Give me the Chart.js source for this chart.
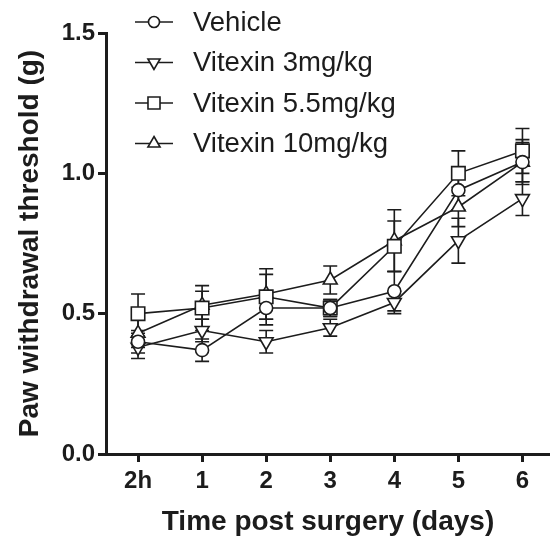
<!DOCTYPE html>
<html>
<head>
<meta charset="utf-8">
<script src="https://cdn.jsdelivr.net/npm/chart.js@4"></script>
<style>
  html, body { margin: 0; padding: 0; background: #fff; }
  #box { width: 550px; height: 537px; }
</style>
</head>
<body>
<div id="box"><canvas id="grafico" width="550" height="537"></canvas></div>
<script>
// dados
const categories = ['2h', '1', '2', '3', '4', '5', '6'];
const seriesNames = ['Vehicle', 'Vitexin 3mg/kg', 'Vitexin 5.5mg/kg', 'Vitexin 10mg/kg'];
const vehicle = [0.40, 0.37, 0.52, 0.52, 0.58, 0.94, 1.04];
const vitexin3 = [0.38, 0.44, 0.40, 0.45, 0.54, 0.76, 0.91];
const vitexin55 = [0.50, 0.52, 0.56, 0.52, 0.74, 1.00, 1.08];
const vitexin10 = [0.43, 0.53, 0.57, 0.62, 0.76, 0.88, 1.04];
const vehicleErr = [0.04, 0.04, 0.06, 0.03, 0.07, 0.07, 0.08];
const vitexin3Err = [0.04, 0.04, 0.04, 0.03, 0.04, 0.08, 0.06];
const vitexin55Err = [0.07, 0.08, 0.08, 0.03, 0.09, 0.08, 0.08];
const vitexin10Err = [0.05, 0.05, 0.09, 0.05, 0.11, 0.07, 0.07];
const yTicks = [0, 0.5, 1.0, 1.5];

const ink = '#1c1c1c';

function toPoints(values) {
  return values.map((v, i) => ({ x: i, y: v }));
}

function makeSet(label, values, errs, style, radius, rotation, legendRadius) {
  return {
    label: label,
    data: toPoints(values),
    errors: errs,
    legendRadius: legendRadius,
    borderColor: ink,
    backgroundColor: '#fff',
    borderWidth: 1.6,
    pointStyle: style,
    pointRadius: radius,
    pointRotation: rotation,
    pointBorderWidth: 1.6,
    pointBackgroundColor: '#fff',
    pointBorderColor: ink,
    tension: 0
  };
}

const datasets = [
  makeSet(seriesNames[0], vehicle, vehicleErr, 'circle', 6.5, 0, 5.5),
  makeSet(seriesNames[1], vitexin3, vitexin3Err, 'triangle', 8, 180, 7),
  makeSet(seriesNames[2], vitexin55, vitexin55Err, 'rect', 9.5, 0, 8.5),
  makeSet(seriesNames[3], vitexin10, vitexin10Err, 'triangle', 8, 0, 7)
];

// barras de erro (SEM) desenhadas pelas escalas do próprio gráfico
const errorBars = {
  id: 'errorBars',
  beforeDatasetsDraw(chart) {
    const ctx = chart.ctx;
    const xs = chart.scales.x, ys = chart.scales.y;
    ctx.save();
    ctx.strokeStyle = ink;
    ctx.lineWidth = 1.6;
    chart.data.datasets.forEach(ds => {
      ds.data.forEach((p, i) => {
        const e = ds.errors[i];
        const px = xs.getPixelForValue(p.x);
        const top = ys.getPixelForValue(p.y + e);
        const bot = ys.getPixelForValue(p.y - e);
        ctx.beginPath();
        ctx.moveTo(px, top); ctx.lineTo(px, bot);
        ctx.moveTo(px - 7, top); ctx.lineTo(px + 7, top);
        ctx.moveTo(px - 7, bot); ctx.lineTo(px + 7, bot);
        ctx.stroke();
      });
    });
    ctx.restore();
  }
};

// legenda no estilo GraphPad: linha com o marcador no meio
const legendaLinha = {
  id: 'legendaLinha',
  afterDraw(chart) {
    const ctx = chart.ctx;
    ctx.save();
    ctx.font = '27.5px "Liberation Sans", Arial, sans-serif';
    ctx.textBaseline = 'middle';
    chart.data.datasets.forEach((ds, i) => {
      const y = 22 + i * 40.5;
      ctx.strokeStyle = ink;
      ctx.fillStyle = '#fff';
      ctx.lineWidth = 1.6;
      ctx.beginPath();
      ctx.moveTo(135, y); ctx.lineTo(173, y);
      ctx.stroke();
      Chart.helpers.drawPoint(ctx, {
        pointStyle: ds.pointStyle,
        rotation: ds.pointRotation,
        radius: ds.legendRadius,
        borderWidth: 1.6
      }, 154, y);
      ctx.fillStyle = ink;
      ctx.fillText(ds.label, 193, y + 1);
    });
    ctx.restore();
  }
};

const tickFont = { family: '"Liberation Sans", Arial, sans-serif', size: 24, weight: 'bold' };
const titleFont = { family: '"Liberation Sans", Arial, sans-serif', size: 28, weight: 'bold' };

const config = {
  type: 'line',
  data: { datasets: datasets },
  options: {
    responsive: false,
    animation: false,
    layout: { autoPadding: false, padding: { top: 33, right: 0, left: 0, bottom: 0 } },
    plugins: { legend: { display: false }, tooltip: { enabled: false } },
    scales: {
      x: {
        type: 'linear',
        min: -0.5,
        max: 6.43,
        afterBuildTicks: s => { s.ticks = categories.map((c, i) => ({ value: i })); },
        afterFit: s => { s.height = 83; s.paddingLeft = 0; s.paddingRight = 0; },
        ticks: {
          color: ink,
          font: tickFont,
          padding: 5,
          autoSkip: false,
          maxRotation: 0,
          callback: v => categories[v]
        },
        grid: { display: true, drawOnChartArea: false, drawTicks: true, tickLength: 8, color: ink, lineWidth: 3 },
        border: { display: true, color: ink, width: 3 },
        title: { display: true, text: 'Time post surgery (days)', color: ink, font: titleFont, padding: { top: 0, bottom: -2 } }
      },
      y: {
        min: 0,
        max: 1.5,
        afterBuildTicks: s => { s.ticks = yTicks.map(v => ({ value: v })); },
        afterFit: s => { s.width = 106; },
        ticks: {
          color: ink,
          font: tickFont,
          padding: 3,
          callback: v => v.toFixed(1)
        },
        grid: { display: true, drawOnChartArea: false, drawTicks: true, tickLength: 8, color: ink, lineWidth: 3 },
        border: { display: true, color: ink, width: 3 },
        title: { display: true, text: 'Paw withdrawal threshold (g)', color: ink, font: titleFont, padding: { top: 13, bottom: 0 } }
      }
    }
  },
  plugins: [errorBars, legendaLinha]
};

const ctx = document.getElementById('grafico').getContext('2d');
new Chart(ctx, config);
</script>
</body>
</html>
